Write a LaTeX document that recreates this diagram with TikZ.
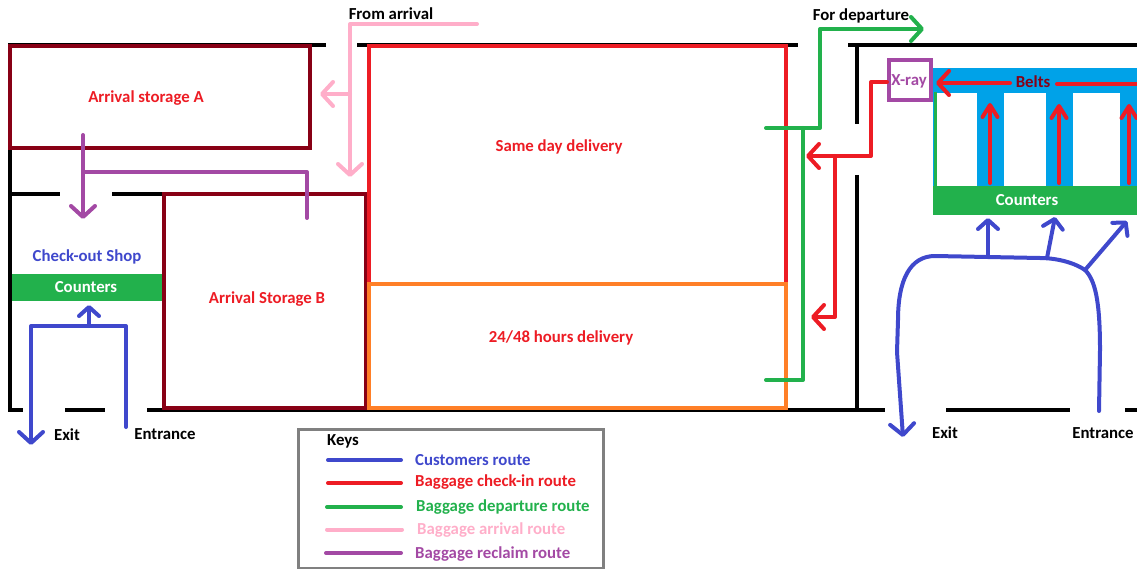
\documentclass[tikz,border=0pt]{standalone}
\usepackage{fontspec}
\setmainfont{Carlito}
\usetikzlibrary{arrows.meta}
\definecolor{cred}{HTML}{ED1C24}
\definecolor{cgreen}{HTML}{22B14C}
\definecolor{cblue}{HTML}{3F48CC}
\definecolor{cpink}{HTML}{FFAEC9}
\definecolor{cpurple}{HTML}{A349A4}
\definecolor{cdark}{HTML}{880015}
\definecolor{corange}{HTML}{FF7F27}
\definecolor{cbelt}{HTML}{00A2E8}
\tikzset{
  x=1pt,y=-1pt,
  wall/.style={black,line width=4pt},
  room/.style={line width=4pt,line join=miter},
  route/.style={line width=4pt,line cap=round,line join=round},
  head/.style={route,-{Straight Barb[round,length=11pt,width=24pt]}},
  smallhead/.style={route,-{Straight Barb[round,length=9pt,width=20pt]}},
  narrowhead/.style={route,-{Straight Barb[round,length=12pt,width=15pt]}},
  lab/.style={font=\bfseries\fontsize{16.8}{19}\selectfont,inner sep=0pt},
  keyline/.style={line width=4pt,line cap=round},
  keylab/.style={lab,anchor=west},
}
\begin{document}
\begin{tikzpicture}
\useasboundingbox (0,0) rectangle (1137,569);
% belts and counters on the right
\fill[cbelt] (933,68) rectangle (1137,186);
\fill[white] (937,93) rectangle (977,186);
\fill[white] (1004,93) rectangle (1046,186);
\fill[white] (1073,93) rectangle (1120,186);
\fill[cgreen] (933,186) rectangle (1137,215);
\draw[cgreen,line width=3pt] (935,92) -- (935,186);
% walls
\draw[wall] (326,45) -- (10,45) -- (10,410) -- (23,410);
\draw[wall] (357,45) -- (798,45);
\draw[wall] (848,45) -- (1137,45);
\draw[wall] (65,410) -- (105,410);
\draw[wall] (147,410) -- (885,410);
\draw[wall] (946,410) -- (1070,410);
\draw[wall] (1125,410) -- (1137,410);
\draw[wall] (10,194) -- (60,194);
\draw[wall] (112,194) -- (164,194);
\draw[wall] (857,45) -- (857,124);
\draw[wall] (857,175) -- (857,410);
% left counters
\node[fill=cgreen,minimum width=151pt,minimum height=27pt,inner sep=0pt] (cleft) at (87.5,287.5) {};
\node[lab,text=white] (tcl) at (86,287) {Counters};
% rooms
\node[draw=cdark,room,minimum width=300pt,minimum height=102pt,inner sep=0pt] (arrA) at (160,97) {};
\node[draw=cdark,room,minimum width=202pt,minimum height=214pt,inner sep=0pt] (arrB) at (265,301) {};
\node[draw=cred,room,minimum width=417pt,minimum height=238pt,inner sep=0pt] (same) at (577.5,165) {};
\node[draw=corange,room,minimum width=417pt,minimum height=124pt,inner sep=0pt] (hours) at (577.5,346) {};
\node[lab,text=cred] (tA) at (146,98) {Arrival storage A};
\node[lab,text=cred] (tB) at (267,299) {Arrival Storage B};
\node[lab,text=cred] (tS) at (559,147) {Same day delivery};
\node[lab,text=cred] (tH) at (561,338) {24/48 hours delivery};
\node[lab,text=cblue] (tC) at (87,257) {Check-out Shop};
% pink route
\draw[head,cpink] (477,24) -- (350,24) -- (350,177);
\draw[head,cpink] (350,94) -- (320,94);
% purple route
\draw[head,cpurple] (83,135) -- (83,219);
\draw[route,cpurple] (83,172) -- (307,172) -- (307,218);
% left blue
\draw[head,cblue] (126,427) -- (126,326) -- (31,326) -- (31,445);
\draw[smallhead,cblue] (89,326) -- (89,305);
\node[lab,text=black] (ex1) at (67,435) {Exit};
\node[lab,text=black] (en1) at (165,434) {Entrance};
% green route
\draw[head,cgreen] (766,128) -- (820,128) -- (820,29) -- (924,29);
\draw[route,cgreen] (803,128) -- (803,380) -- (766,380);
\node[lab,text=black] (fd) at (861,16) {For departure};
\node[lab,text=black] (fa) at (391,14) {From arrival};
% x-ray
\node[draw=cpurple,line width=4pt,minimum width=42pt,minimum height=40pt,inner sep=0pt] (xray) at (910,80) {};
\node[lab,text=cpurple] (txr) at (909,81) {X-ray};
% red route
\draw[head,cred] (xray.west |- 0,82) -- (871,82) -- (871,156) -- (806,156);
\draw[head,cred] (835,156) -- (835,317) -- (811,317);
\draw[narrowhead,cred] (990,183) -- (990,103);
\draw[narrowhead,cred] (1059,183) -- (1059,104);
\draw[narrowhead,cred] (1129,183) -- (1129,104);
\draw[head,cred] (1010,83) -- (936,83);
\draw[route,cred] (1057,84) -- (1140,84);
\node[lab,text=cdark] (belts) at (1033,82) {Belts};
\node[lab,text=white] (cr) at (1027,200) {Counters};
% right blue
\draw[route,cblue] (1099,411) -- (1100,350) .. controls (1100,300) and (1095,280) .. (1085,270) .. controls (1070,260) and (1050,258) .. (1040,258) -- (935,256) .. controls (910,256) and (898,280) .. (898,320) -- (897,352);
\draw[head,cblue] (897,352) -- (903,437);
\draw[smallhead,cblue] (988,256) -- (988,218);
\draw[smallhead,cblue] (1047,258) -- (1055,217);
\draw[smallhead,cblue] (1085,270) -- (1127,221);
\node[lab,text=black] (ex2) at (945,433) {Exit};
\node[lab,text=black] (en2) at (1103,433) {Entrance};
% key
\node[draw=black!50,line width=3pt,minimum width=305pt,minimum height=139pt,inner sep=0pt] (key) at (450.5,498.5) {};
\node[lab,text=black] (keys) at (343,441) {Keys};
\draw[keyline,cblue] (328,460) -- (401,460);
\draw[keyline,cred] (328,483) -- (401,483);
\draw[keyline,cgreen] (327,507) -- (401,507);
\draw[keyline,cpink] (327,529.5) -- (402,529.5);
\draw[keyline,cpurple] (326,553) -- (401,553);
\node[keylab,text=cblue] (k1) at (415,460) {Customers route};
\node[keylab,text=cred] (k2) at (415,482) {Baggage check-in route};
\node[keylab,text=cgreen] (k3) at (416,507) {Baggage departure route};
\node[keylab,text=cpink] (k4) at (417,530) {Baggage arrival route};
\node[keylab,text=cpurple] (k5) at (415,554) {Baggage reclaim route};
\end{tikzpicture}
\end{document}
